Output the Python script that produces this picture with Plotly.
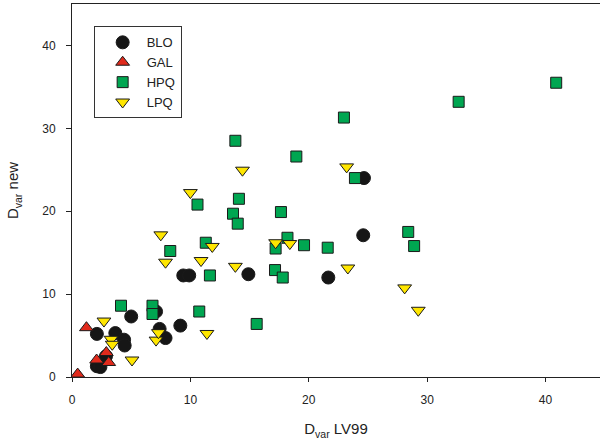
import plotly.graph_objects as go

# ---- data ----
blo_x = [5.0, 2.1, 3.66, 4.4, 4.45, 2.1, 2.4, 2.87, 7.1, 7.4, 7.9, 9.15, 9.4, 9.9, 14.9, 21.65, 24.6, 24.66]
blo_y = [7.3, 5.2, 5.3, 4.5, 3.8, 1.3, 1.2, 2.5, 7.9, 5.8, 4.7, 6.2, 12.25, 12.25, 12.4, 12.0, 17.1, 24.0]

gal_x = [0.48, 1.22, 2.08, 2.9, 3.1]
gal_y = [0.35, 5.95, 2.05, 2.95, 1.75]

hpq_x = [4.14, 6.8, 6.8, 8.3, 10.6, 10.75, 11.3, 11.65, 13.6, 13.8, 14.0, 14.1, 15.6, 17.15,
         17.2, 17.65, 17.8, 18.2, 18.95, 19.6, 21.6, 22.97, 23.9, 28.4, 28.9, 32.66, 40.9]
hpq_y = [8.6, 8.6, 7.6, 15.2, 20.8, 7.9, 16.2, 12.25, 19.7, 28.5, 18.5, 21.5, 6.4, 12.9,
         15.5, 19.9, 12.0, 16.8, 26.6, 15.9, 15.6, 31.3, 24.0, 17.5, 15.8, 33.2, 35.5]

lpq_x = [2.7, 3.3, 3.4, 5.07, 7.1, 7.3, 7.5, 7.9, 10.0, 10.9, 11.4, 11.85, 13.8, 14.4,
         17.2, 18.4, 23.2, 23.3, 28.1, 29.25]
lpq_y = [6.75, 4.55, 3.95, 2.05, 4.45, 5.35, 17.15, 13.85, 22.25, 14.05, 5.25, 15.75, 13.35, 24.95,
         16.2, 16.1, 25.35, 13.15, 10.75, 8.05]

x_ticks = [0, 10, 20, 30, 40]
y_ticks = [0, 10, 20, 30, 40]

FONT = "Arial, Liberation Sans, sans-serif"
EDGE = dict(color="#1a1a1a", width=1)

fig = go.Figure()
fig.add_trace(go.Scatter(x=blo_x, y=blo_y, mode="markers", name="BLO",
                         marker=dict(symbol="circle", size=13, color="#161616", line=EDGE)))
fig.add_trace(go.Scatter(x=gal_x, y=gal_y, mode="markers", name="GAL",
                         marker=dict(symbol="triangle-up", size=12, color="#e02a1c", line=EDGE)))
fig.add_trace(go.Scatter(x=hpq_x, y=hpq_y, mode="markers", name="HPQ",
                         marker=dict(symbol="square", size=11, color="#00a651", line=EDGE)))
fig.add_trace(go.Scatter(x=lpq_x, y=lpq_y, mode="markers", name="LPQ",
                         marker=dict(symbol="triangle-down", size=12, color="#ffe600", line=EDGE)))

fig.update_layout(
    width=600, height=441,
    margin=dict(l=72, r=0, t=4, b=64),
    paper_bgcolor="white", plot_bgcolor="white",
    font=dict(family=FONT, size=12, color="#222"),
    showlegend=True,
    legend=dict(x=0.041, y=0.94, xanchor="left", yanchor="top",
                bordercolor="#333", borderwidth=1, bgcolor="white",
                font=dict(family=FONT, size=13, color="#222"),
                itemwidth=38, indentation=4, tracegroupgap=0),
    xaxis=dict(range=[0, 44.6], tickvals=x_ticks, ticktext=[str(v) for v in x_ticks],
               showgrid=False, zeroline=False, showline=True, linecolor="#222", linewidth=1,
               mirror=True, ticks="outside", ticklen=4, tickcolor="#222",
               ticklabelstandoff=8,
               title=dict(text="D<sub>var</sub> LV99", font=dict(family=FONT, size=15, color="#222"),
                          standoff=17)),
    yaxis=dict(range=[0, 45], tickvals=y_ticks, ticktext=[str(v) for v in y_ticks],
               showgrid=False, zeroline=False, showline=True, linecolor="#222", linewidth=1,
               mirror=False, ticks="outside", ticklen=5, tickcolor="#222",
               ticklabelstandoff=8,
               title=dict(text="D<sub>var</sub> new", font=dict(family=FONT, size=15, color="#222"),
                          standoff=19)),
)

fig.write_html("out.html", config={"displayModeBar": False},
               post_script="document.body.style.margin='0';")
